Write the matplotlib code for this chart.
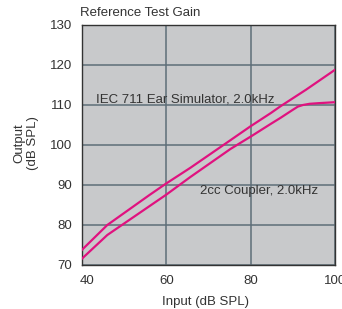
import numpy as np
import matplotlib
matplotlib.use("Agg")
import matplotlib.pyplot as plt
import matplotlib.transforms as mtransforms

plt.rcParams['font.family'] = ['Liberation Sans', 'DejaVu Sans']

# IEC 711 ear simulator curve (upper)
IEC_INPUT = [40, 46, 56, 60, 65.7, 75.2, 80, 84.8, 87.1, 93.1, 100]
IEC_OUTPUT = [73.8, 80, 87.5, 90.4, 94.3, 101.2, 104.7, 108.0, 109.7, 113.8, 118.8]

# 2cc coupler curve (lower)
CPL_INPUT = [40, 46, 60, 65.7, 75.2, 80, 84.8, 87.1, 90.0, 91.2, 92.4, 94, 96, 100]
CPL_OUTPUT = [71.6, 77.5, 87.6, 92, 99.0, 102.1, 105.3, 106.8, 108.8, 109.6, 110.0, 110.3, 110.45, 110.7]

X_TICKS = [40, 60, 80, 100]
Y_TICKS = [70, 80, 90, 100, 110, 120, 130]

MAGENTA = '#E0127F'
GRID = '#5E6E78'
BG = '#C8C9CB'
TEXT = '#333333'

fig = plt.figure(figsize=(3.42, 3.09), dpi=100)
ax = fig.add_axes([0.2398, 0.1424, 0.7397, 0.7767])
ax.set_facecolor(BG)

ax.plot(IEC_INPUT, IEC_OUTPUT, color=MAGENTA, lw=1.6, zorder=3)
ax.plot(CPL_INPUT, CPL_OUTPUT, color=MAGENTA, lw=1.6, zorder=3)

ax.set_xlim(40, 100)
ax.set_ylim(70, 130)
ax.set_xticks(X_TICKS)
ax.set_yticks(Y_TICKS)
ax.grid(True, color=GRID, lw=1.1, zorder=1)
ax.set_axisbelow(True)
ax.tick_params(length=0, labelsize=9.5, labelcolor=TEXT, pad=7)
for s in ax.spines.values():
    s.set_color('#333333')
    s.set_linewidth(1.0)

# first x label sits a bit to the right in the original
off = mtransforms.ScaledTranslation(5 / 100, 0, fig.dpi_scale_trans)
lbl = ax.get_xticklabels()[0]
lbl.set_transform(lbl.get_transform() + off)

ax.text(43.3, 111.3, 'IEC 711 Ear Simulator, 2.0kHz', fontsize=9.5,
        color=TEXT, va='center', ha='left', zorder=4)
ax.text(68.1, 88.6, '2cc Coupler, 2.0kHz', fontsize=9.5,
        color=TEXT, va='center', ha='left', zorder=4)

fig.text(80 / 342, 1 - 12.7 / 309, 'Reference Test Gain', fontsize=9.5,
         color=TEXT, va='center', ha='left')
fig.text(26.5 / 342, 1 - 143 / 309, 'Output\n(dB SPL)', fontsize=9.5,
         color=TEXT, va='center', ha='center', rotation=90, linespacing=1.2)
fig.text(205 / 342, 1 - 302 / 309, 'Input (dB SPL)', fontsize=9.5,
         color=TEXT, va='center', ha='center')

fig.savefig('out.png', dpi=100)
